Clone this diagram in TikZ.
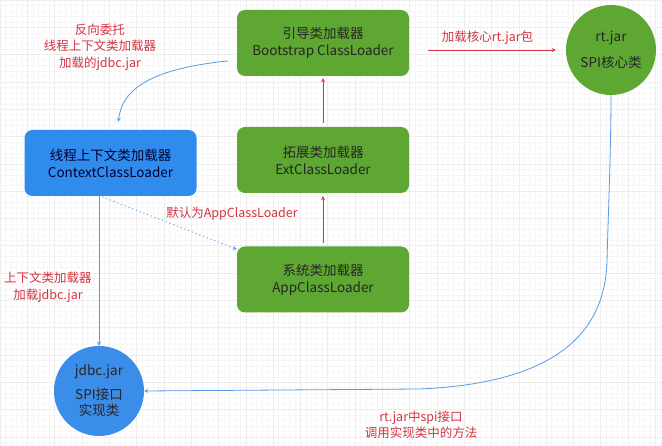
\documentclass[tikz,border=0pt]{standalone}
\usepackage{fontspec}
\setmainfont{Noto Sans CJK SC}
\usetikzlibrary{arrows}

\definecolor{loadergreen}{RGB}{94,167,50}
\definecolor{ctxblue}{RGB}{47,140,236}
\definecolor{jarblue}{RGB}{58,141,232}
\definecolor{linkblue}{RGB}{88,153,232}
\definecolor{notered}{RGB}{212,52,66}

\begin{document}
\begin{tikzpicture}[x=1pt, y=-1pt]
  \tikzset{
    loader/.style={fill=loadergreen, rounded corners=8pt, minimum width=172pt, minimum height=66pt,
      align=center, text=black!85, font=\fontsize{13.5}{17}\selectfont},
    context/.style={loader, fill=ctxblue, text=blue!20!black},
    jar/.style={circle, minimum size=90pt, inner sep=0pt, align=center,
      text=black!85, font=\fontsize{13.5}{16}\selectfont},
    note/.style={align=center, text=notered, font=\fontsize{12.5}{16.5}\selectfont},
    redlink/.style={thick, ->, >=stealth, notered},
    bluelink/.style={thick, ->, >=stealth, linkblue}
  }

  % background and grid
  \useasboundingbox (0,0) rectangle (662,446);
  \fill[white] (0,0) rectangle (662,446);
  \draw[gray!6, step=5.46pt] (0,0) grid (662,446);
  \draw[gray!14, step=27.3pt] (0,0) grid (662,446);

  % class loaders
  \node[loader] (boot) at (323,43) {引导类加载器\\Bootstrap ClassLoader};
  \node[loader] (ext) at (323,160) {拓展类加载器\\ExtClassLoader};
  \node[loader] (app) at (323,279.5) {系统类加载器\\AppClassLoader};
  \node[context] (ctx) at (110.5,163) {线程上下文类加载器\\ContextClassLoader};

  % jar packages
  \node[jar, fill=loadergreen] (rt) at (611,50) {rt.jar\\[10pt]SPI核心类};
  \node[jar, fill=jarblue] (jdbc) at (99,391) {jdbc.jar\\[8pt]SPI接口\\实现类};

  % parent delegation
  \draw[redlink, shorten <=4pt, shorten >=2pt] (ext) -- (boot);
  \draw[redlink, shorten <=3pt, shorten >=3pt] (app) -- (ext);
  \draw[redlink, shorten <=19pt, shorten >=10pt] ([yshift=-7pt]boot.east) -- (rt.west)
    node[midway, above=2pt, note] {加载核心rt.jar包};

  % thread context loader
  \draw[bluelink, shorten <=9pt] ([yshift=-17pt]boot.west)
    .. controls (160,68) and (122,85) .. ([shift={(8pt,8pt)}]ctx.north);
  \node[note] (backnote) at (100,47) {反向委托\\线程上下文类加载器\\加载的jdbc.jar};

  \draw[bluelink, dash pattern=on 1.2pt off 2.8pt, shorten <=2pt] ([xshift=-10pt]ctx.south) -- ([yshift=-3pt]app.north west);
  \node[note] (defnote) at (232,214) {默认为AppClassLoader};

  \draw[bluelink] (ctx.south -| jdbc.north) -- (jdbc.north);
  \node[note] (ctxnote) at (48,287) {上下文类加载器\\加载jdbc.jar};

  % spi call back
  \coordinate (turn) at (607,262);
  \coordinate (bend) at (420,389);
  \draw[bluelink] (rt.south) .. controls (611,150) and (608,220) .. (turn)
    .. controls (604,350) and (530,384) .. (bend) -- (jdbc.east);
  \node[note] (spinote) at (421,425) {rt.jar中spi接口\\调用实现类中的方法};
\end{tikzpicture}
\end{document}
